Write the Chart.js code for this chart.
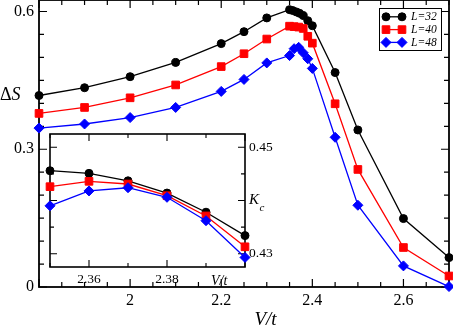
<!DOCTYPE html>
<html><head><meta charset="utf-8">
<script src="https://cdn.jsdelivr.net/npm/chart.js@4"></script>
<style>
html,body{margin:0;padding:0;background:#fff;}
#wrap{position:relative;width:453px;height:327px;overflow:hidden;}
#wrap canvas{position:absolute;left:0;top:0;}
</style></head><body>
<div id="wrap"><canvas id="main" width="453" height="327"></canvas><canvas id="inset" width="453" height="327"></canvas></div>
<script>
const seriesLabels = ['L=32', 'L=40', 'L=48'];
const seriesColors = ['#000000', '#ff0000', '#0000ff'];
const seriesStyles = ['circle', 'rect', 'rectRot'];

const mainX_L32 = [1.8, 1.9, 2.0, 2.1, 2.2, 2.25, 2.3, 2.35, 2.357, 2.365, 2.372, 2.38, 2.39, 2.40, 2.45, 2.5, 2.6, 2.7];
const mainY_L32 = [0.417, 0.434, 0.458, 0.489, 0.530, 0.556, 0.586, 0.604, 0.602, 0.599, 0.596, 0.591, 0.580, 0.569, 0.467, 0.342, 0.149, 0.064];
const mainX_L40 = [1.8, 1.9, 2.0, 2.1, 2.2, 2.25, 2.3, 2.35, 2.36, 2.37, 2.38, 2.39, 2.40, 2.45, 2.5, 2.6, 2.7];
const mainY_L40 = [0.378, 0.391, 0.412, 0.440, 0.480, 0.508, 0.540, 0.568, 0.567, 0.566, 0.563, 0.546, 0.531, 0.399, 0.256, 0.086, 0.024];
const mainX_L48 = [1.8, 1.9, 2.0, 2.1, 2.2, 2.25, 2.3, 2.35, 2.36, 2.37, 2.38, 2.39, 2.40, 2.45, 2.5, 2.6, 2.7];
const mainY_L48 = [0.346, 0.355, 0.369, 0.391, 0.426, 0.452, 0.488, 0.504, 0.519, 0.522, 0.510, 0.497, 0.476, 0.326, 0.178, 0.046, 0.001];

const insetX = [2.35, 2.36, 2.37, 2.38, 2.39, 2.40];
const insetK_L32 = [0.4456, 0.4451, 0.4437, 0.4414, 0.4378, 0.4334];
const insetK_L40 = [0.4426, 0.4436, 0.4431, 0.4409, 0.4371, 0.4313];
const insetK_L48 = [0.4390, 0.4418, 0.4424, 0.4406, 0.4362, 0.4293];

const mainXMajor = [1.8, 2.0, 2.2, 2.4, 2.6];
const mainXLabels = ['', '2', '2.2', '2.4', '2.6'];
const mainYTicks = [0, 0.05, 0.1, 0.15, 0.2, 0.25, 0.3, 0.35, 0.4, 0.45, 0.5, 0.55, 0.6];
const mainYMajor = [0, 0.3, 0.6];
const mainYLabels = ['0', '0.3', '0.6'];
const insetXMajor = [2.36, 2.38, 2.40];
const insetXLabels = ['2.36', '2.38', ''];
const insetYTicks = [0.43, 0.435, 0.44, 0.445, 0.45];
const insetYMajor = [0.43, 0.44, 0.45];
const insetYLabels = ['0.43', '', '0.45'];

const SERIF = '"Liberation Serif", "DejaVu Serif", serif';
function findIdx(v, arr) { return arr.findIndex(a => Math.abs(a - v) < 1e-7); }
function labelCb(majors, labels) {
  return function (v) { const i = findIdx(v, majors); return i >= 0 ? labels[i] : ''; };
}
const markerRadius = { circle: 4, rect: 5.4, rectRot: 5 };
function mkDS(i, xs, ys, order) {
  const st = seriesStyles[i];
  return {
    label: seriesLabels[i],
    data: xs.map((x, k) => ({ x: x, y: ys[k] })),
    borderColor: seriesColors[i], backgroundColor: seriesColors[i],
    pointBackgroundColor: seriesColors[i], pointBorderColor: seriesColors[i],
    borderWidth: 1.3, pointBorderWidth: 1, pointStyle: st,
    pointRadius: markerRadius[st], pointHoverRadius: markerRadius[st],
    tension: 0, clip: false, order: order
  };
}
function drawMarker(ctx, style, x, y, r, color) {
  ctx.fillStyle = color; ctx.strokeStyle = color; ctx.lineWidth = 1;
  ctx.beginPath();
  if (style === 'circle') ctx.arc(x, y, r, 0, Math.PI * 2);
  else if (style === 'rect') { const s = r * Math.SQRT1_2; ctx.rect(x - s, y - s, 2 * s, 2 * s); }
  else { ctx.moveTo(x - r, y); ctx.lineTo(x, y - r); ctx.lineTo(x + r, y); ctx.lineTo(x, y + r); ctx.closePath(); }
  ctx.fill(); ctx.stroke();
}
function frameTicks(o) {
  return {
    id: 'frameTicks',
    beforeDraw(chart) {
      if (o.fill) {
        const a = chart.chartArea, ctx = chart.ctx;
        ctx.save(); ctx.fillStyle = '#fff';
        ctx.fillRect(a.left, a.top, a.right - a.left, a.bottom - a.top);
        ctx.restore();
      }
    },
    beforeDatasetsDraw(chart) {
      const { ctx, chartArea: a, scales } = chart;
      const xs = scales.x, ys = scales.y;
      ctx.save();
      ctx.strokeStyle = '#000'; ctx.lineWidth = o.tickWidth;
      ctx.beginPath();
      xs.ticks.forEach(t => {
        const px = xs.getPixelForValue(t.value);
        const len = findIdx(t.value, o.xMajor) >= 0 ? o.major : o.minor;
        ctx.moveTo(px, a.bottom); ctx.lineTo(px, a.bottom - len);
        ctx.moveTo(px, a.top); ctx.lineTo(px, a.top + len);
      });
      ys.ticks.forEach(t => {
        const py = ys.getPixelForValue(t.value);
        const len = findIdx(t.value, o.yMajor) >= 0 ? o.major : o.minor;
        ctx.moveTo(a.left, py); ctx.lineTo(a.left + len, py);
        ctx.moveTo(a.right, py); ctx.lineTo(a.right - len, py);
      });
      ctx.stroke();
      ctx.lineWidth = o.frameWidth;
      ctx.strokeRect(a.left, a.top, a.right - a.left, a.bottom - a.top);
      ctx.restore();
    }
  };
}

const mainDecor = {
  id: 'mainDecor',
  afterDraw(chart) {
    const ctx = chart.ctx;
    ctx.save();
    ctx.fillStyle = '#000';
    ctx.textBaseline = 'alphabetic';
    ctx.font = '18px ' + SERIF; ctx.textAlign = 'left';
    ctx.fillText('\u0394', 0, 100);
    const w = ctx.measureText('\u0394').width;
    ctx.font = 'italic 18px ' + SERIF;
    ctx.fillText('S', w, 100);
    ctx.font = 'italic 19px ' + SERIF; ctx.textAlign = 'center';
    ctx.fillText('V/t', 265.5, 325);
    const bx = 379.5, by = 8.5, bw = 62, bh = 42;
    ctx.fillStyle = '#fff'; ctx.fillRect(bx, by, bw, bh);
    ctx.strokeStyle = '#000'; ctx.lineWidth = 1; ctx.strokeRect(bx, by, bw, bh);
    chart.data.datasets.forEach((ds, i) => {
      const y = 16.8 + i * 12.8;
      ctx.strokeStyle = ds.borderColor; ctx.lineWidth = 1.3;
      ctx.beginPath(); ctx.moveTo(386, y); ctx.lineTo(402, y); ctx.stroke();
      drawMarker(ctx, ds.pointStyle, 386, y, ds.pointRadius, ds.borderColor);
      drawMarker(ctx, ds.pointStyle, 402, y, ds.pointRadius, ds.borderColor);
      ctx.fillStyle = '#000'; ctx.font = 'italic 11.5px ' + SERIF;
      ctx.textAlign = 'left'; ctx.textBaseline = 'middle';
      ctx.fillText(ds.label, 411, y + 0.5);
    });
    ctx.restore();
  }
};

new Chart(document.getElementById('main'), {
  type: 'line',
  data: {
    datasets: [
      mkDS(0, mainX_L32, mainY_L32, 2),
      mkDS(1, mainX_L40, mainY_L40, 1),
      mkDS(2, mainX_L48, mainY_L48, 0)
    ]
  },
  options: {
    responsive: false, animation: false, devicePixelRatio: 1,
    layout: { autoPadding: false, padding: { left: 0, right: 4, top: 0, bottom: 0 } },
    plugins: { legend: { display: false }, tooltip: { enabled: false } },
    events: [],
    scales: {
      x: {
        type: 'linear', min: 1.8, max: 2.7,
        grid: { display: false, drawTicks: false }, border: { display: false },
        ticks: { stepSize: 0.05, maxTicksLimit: 100, autoSkip: false, maxRotation: 0,
          padding: 4, color: '#000', font: { family: SERIF, size: 16 },
          callback: labelCb(mainXMajor, mainXLabels) },
        afterFit(s) { s.height = 40; s.paddingLeft = 0; s.paddingRight = 0; }
      },
      y: {
        type: 'linear', min: 0, max: 0.625,
        grid: { display: false, drawTicks: false }, border: { display: false },
        afterBuildTicks(s) { s.ticks = mainYTicks.map(v => ({ value: v })); },
        ticks: { autoSkip: false, padding: 5, color: '#000', font: { family: SERIF, size: 16 },
          callback: labelCb(mainYMajor, mainYLabels) },
        afterFit(s) { s.width = 39; s.paddingTop = 0; s.paddingBottom = 0; }
      }
    }
  },
  plugins: [frameTicks({ xMajor: mainXMajor, yMajor: mainYMajor, major: 8, minor: 5, tickWidth: 1.2, frameWidth: 1.8, fill: false }), mainDecor]
});

const insetDecor = {
  id: 'insetDecor',
  afterDraw(chart) {
    const ctx = chart.ctx;
    ctx.save();
    ctx.fillStyle = '#000'; ctx.textBaseline = 'alphabetic'; ctx.textAlign = 'left';
    ctx.font = 'italic 14px ' + SERIF;
    ctx.fillText('V/t', 211, 285);
    ctx.font = 'italic 15px ' + SERIF;
    ctx.fillText('K', 249, 204);
    ctx.font = 'italic 11px ' + SERIF;
    ctx.fillText('c', 259.5, 211);
    ctx.restore();
  }
};

new Chart(document.getElementById('inset'), {
  type: 'line',
  data: {
    datasets: [
      mkDS(0, insetX, insetK_L32, 2),
      mkDS(1, insetX, insetK_L40, 1),
      mkDS(2, insetX, insetK_L48, 0)
    ]
  },
  options: {
    responsive: false, animation: false, devicePixelRatio: 1,
    layout: { autoPadding: false, padding: { left: 50, right: 0, top: 134, bottom: 0 } },
    plugins: { legend: { display: false }, tooltip: { enabled: false } },
    events: [],
    scales: {
      x: {
        type: 'linear', min: 2.35, max: 2.40,
        grid: { display: false, drawTicks: false }, border: { display: false },
        ticks: { stepSize: 0.01, maxTicksLimit: 100, autoSkip: false, maxRotation: 0,
          padding: 4, color: '#000', font: { family: SERIF, size: 13.5 },
          callback: labelCb(insetXMajor, insetXLabels) },
        afterFit(s) { s.height = 60; s.paddingLeft = 0; s.paddingRight = 0; }
      },
      y: {
        type: 'linear', position: 'right', min: 0.4275, max: 0.4525,
        grid: { display: false, drawTicks: false }, border: { display: false },
        afterBuildTicks(s) { s.ticks = insetYTicks.map(v => ({ value: v })); },
        ticks: { autoSkip: false, padding: 4, color: '#000', font: { family: SERIF, size: 13.5 },
          callback: labelCb(insetYMajor, insetYLabels) },
        afterFit(s) { s.width = 208; s.paddingTop = 0; s.paddingBottom = 0; }
      }
    }
  },
  plugins: [frameTicks({ xMajor: insetXMajor, yMajor: insetYMajor, major: 7, minor: 4, tickWidth: 1.1, frameWidth: 1.6, fill: true }), insetDecor]
});
</script>
</body></html>
